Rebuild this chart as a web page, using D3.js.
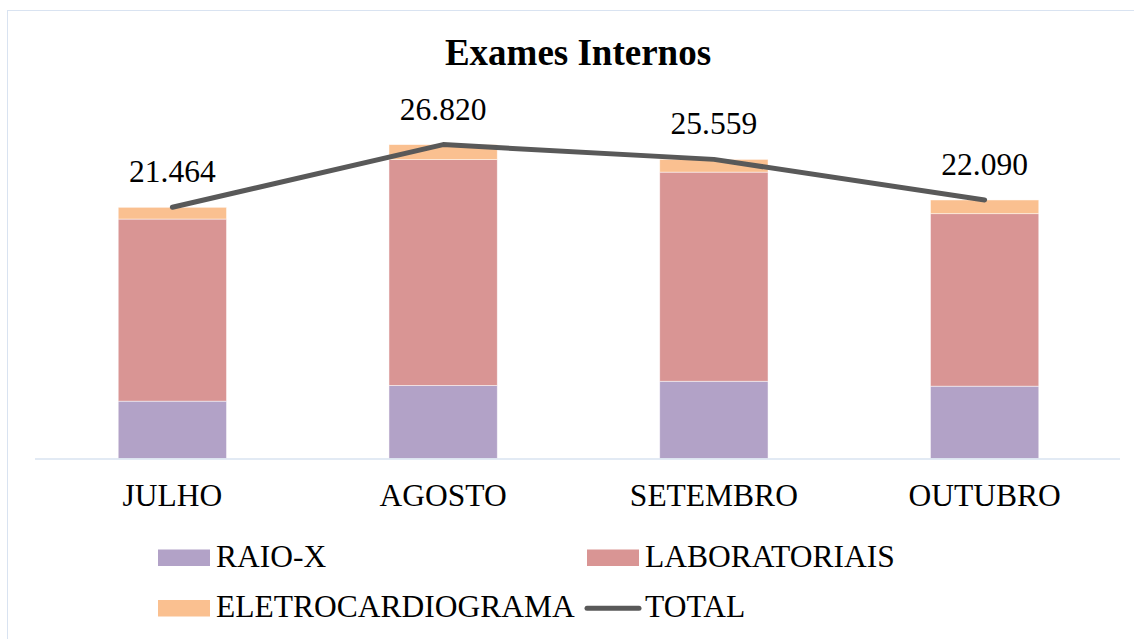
<!doctype html>
<html lang="pt">

<head>
  <meta charset="UTF-8">
  <title>Exames Internos</title>
  <style type="text/css">
    * {
      padding: 0;
      margin: 0;
    }

    body {
      background: #fff;
    }

    svg text {
      font-family: "Liberation Serif", "Times New Roman", serif;
      fill: #000;
    }
  </style>
  <script src="https://cdn.jsdelivr.net/npm/d3@7"></script>
</head>

<body>
  <svg width="1134" height="639"></svg>

  <script>
    // dados
    var categories = ["JULHO", "AGOSTO", "SETEMBRO", "OUTUBRO"];
    var raioX = [4900, 6240, 6600, 6180];
    var laboratoriais = [15560, 19300, 17870, 14740];
    var eletro = [1004, 1280, 1089, 1170];
    var totals = [21464, 26820, 25559, 22090];

    var seriesNames = ["RAIO-X", "LABORATORIAIS", "ELETROCARDIOGRAMA"];
    var colors = ["#b2a2c7", "#d99594", "#fac090"];
    var lineColor = "#595959";

    var rows = categories.map(function (c, i) {
      return { cat: c, "RAIO-X": raioX[i], "LABORATORIAIS": laboratoriais[i], "ELETROCARDIOGRAMA": eletro[i] };
    });

    var svg = d3.select("svg");

    // moldura
    svg.append("rect")
      .attr("x", 7.5)
      .attr("y", 10.5)
      .attr("width", 1140)
      .attr("height", 640)
      .attr("fill", "none")
      .attr("stroke", "#d9e3f1")
      .attr("stroke-width", 1);

    var x = d3.scaleBand()
      .domain(categories)
      .range([37, 1120])
      .paddingInner(0.6)
      .paddingOuter(0.3);

    var y = d3.scaleLinear()
      .domain([0, 30000])
      .range([458.5, 107.4]);

    var stack = d3.stack().keys(seriesNames);
    var layers = stack(rows);

    svg.append("g")
      .selectAll("g")
      .data(layers)
      .enter()
      .append("g")
      .attr("fill", function (d, i) { return colors[i]; })
      .selectAll("rect")
      .data(function (d) { return d; })
      .enter()
      .append("rect")
      .attr("x", function (d) { return x(d.data.cat); })
      .attr("y", function (d) { return y(d[1]); })
      .attr("width", x.bandwidth())
      .attr("height", function (d) { return y(d[0]) - y(d[1]); })
      .attr("stroke", "#ffffff")
      .attr("stroke-opacity", 0.6)
      .attr("stroke-width", 0.8);

    // eixo x
    var xAxis = d3.axisBottom(x).tickSize(0).tickPadding(25.5);
    var gx = svg.append("g")
      .attr("transform", "translate(0," + y(0) + ")")
      .call(xAxis);
    gx.select(".domain")
      .attr("d", "M35,0.5H1120")
      .attr("stroke", "#d9e3f1")
      .attr("stroke-width", 1.5);
    gx.selectAll("text")
      .attr("font-family", "Liberation Serif, Times New Roman, serif")
      .attr("font-size", "31.5px")
      .attr("fill", "#000");

    // linha total
    var line = d3.line()
      .x(function (d, i) { return x(categories[i]) + x.bandwidth() / 2; })
      .y(function (d) { return y(d); });

    svg.append("path")
      .datum(totals)
      .attr("d", line)
      .attr("fill", "none")
      .attr("stroke", lineColor)
      .attr("stroke-width", 5)
      .attr("stroke-linecap", "round")
      .attr("stroke-linejoin", "round");

    var ptBR = d3.formatLocale({ decimal: ",", thousands: ".", grouping: [3], currency: ["R$", ""] });
    var fmt = ptBR.format(",d");

    svg.append("g")
      .selectAll("text")
      .data(totals)
      .enter()
      .append("text")
      .attr("x", function (d, i) { return x(categories[i]) + x.bandwidth() / 2; })
      .attr("y", function (d) { return y(d) - 25; })
      .attr("text-anchor", "middle")
      .attr("font-size", "31.5px")
      .text(function (d) { return fmt(d); });

    // titulo
    svg.append("text")
      .attr("x", 578)
      .attr("y", 65)
      .attr("text-anchor", "middle")
      .attr("font-size", "37px")
      .attr("font-weight", "bold")
      .text("Exames Internos");

    // legenda
    var legendItems = [
      { name: "RAIO-X", color: colors[0], type: "rect", x: 158, y: 549.5 },
      { name: "LABORATORIAIS", color: colors[1], type: "rect", x: 587, y: 549.5 },
      { name: "ELETROCARDIOGRAMA", color: colors[2], type: "rect", x: 158, y: 600 },
      { name: "TOTAL", color: lineColor, type: "line", x: 587, y: 600 }
    ];

    var lg = svg.append("g")
      .selectAll("g")
      .data(legendItems)
      .enter()
      .append("g")
      .attr("transform", function (d) { return "translate(" + d.x + "," + d.y + ")"; });

    lg.filter(function (d) { return d.type === "rect"; })
      .append("rect")
      .attr("width", 52)
      .attr("height", 16.5)
      .attr("fill", function (d) { return d.color; });

    lg.filter(function (d) { return d.type === "line"; })
      .append("line")
      .attr("x1", 0)
      .attr("x2", 52)
      .attr("y1", 8.3)
      .attr("y2", 8.3)
      .attr("stroke", function (d) { return d.color; })
      .attr("stroke-width", 5)
      .attr("stroke-linecap", "round");

    lg.append("text")
      .attr("x", 58)
      .attr("y", 17)
      .attr("font-size", "31.5px")
      .text(function (d) { return d.name; });
  </script>
</body>

</html>
